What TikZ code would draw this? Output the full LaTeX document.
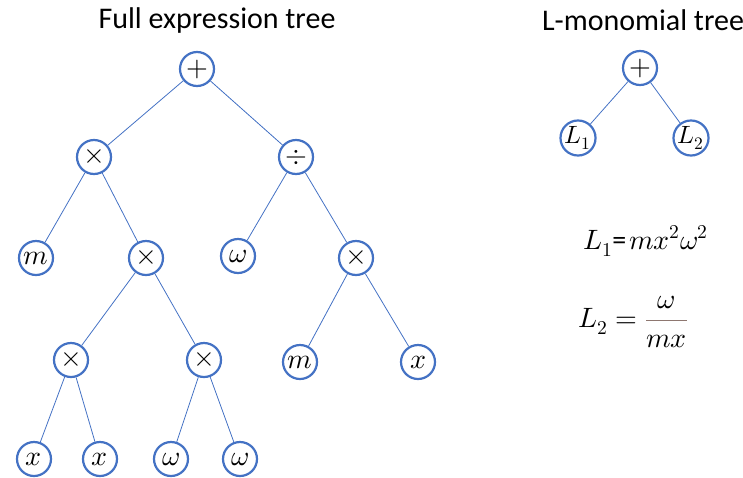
\documentclass[tikz,border=0pt]{standalone}
\usepackage{fontspec}
\setmainfont{Carlito}
\usepackage{amsmath}
\usepackage{unicode-math}
\setmathfont{Latin Modern Math}
\definecolor{nodeblue}{HTML}{4472C4}
\definecolor{fracbar}{HTML}{8E7770}
\begin{document}
\begin{tikzpicture}[x=1pt,y=-1pt,
  tn/.style={circle,draw=nodeblue,line width=2.2pt,fill=white,minimum size=34pt,inner sep=0pt,font=\fontsize{28}{28}\selectfont},
  edge/.style={draw=nodeblue,line width=0.8pt},
  title/.style={font=\fontsize{30}{30}\selectfont}]
\useasboundingbox (0,0) rectangle (743,477);
\node[title] (t1) at (217,20) {Full expression tree};
\node[title] (t2) at (643,20) {L-monomial tree};
% full tree
\node[tn] (r) at (197,69) {$+$};
\node[tn] (a) at (94,157) {$\times$};
\node[tn] (b) at (296,157) {$\div$};
\node[tn] (a1) at (36,258) {$m$};
\node[tn] (a2) at (146,258) {$\times$};
\node[tn] (b1) at (238,256) {$\omega$};
\node[tn] (b2) at (356,258) {$\times$};
\node[tn] (c1) at (71,360) {$\times$};
\node[tn] (c2) at (204,360) {$\times$};
\node[tn] (d1) at (300,362) {$m$};
\node[tn] (d2) at (418,362) {$x$};
\node[tn] (e1) at (34,459) {$x$};
\node[tn] (e2) at (100,459) {$x$};
\node[tn] (e3) at (171,459) {$\omega$};
\node[tn] (e4) at (240,459) {$\omega$};
\draw[edge] (r) -- (a);
\draw[edge] (r) -- (b);
\draw[edge] (a) -- (a1);
\draw[edge] (a) -- (a2);
\draw[edge] (b) -- (b1);
\draw[edge] (b) -- (b2);
\draw[edge] (a2) -- (c1);
\draw[edge] (a2) -- (c2);
\draw[edge] (b2) -- (d1);
\draw[edge] (b2) -- (d2);
\draw[edge] (c1) -- (e1);
\draw[edge] (c1) -- (e2);
\draw[edge] (c2) -- (e3);
\draw[edge] (c2) -- (e4);
% L-monomial tree
\node[tn] (lr) at (640,68) {$+$};
\node[tn,font=\fontsize{25}{25}\selectfont] (l1) at (578,138) {$L_1$};
\node[tn,font=\fontsize{25}{25}\selectfont] (l2) at (691,138) {$L_2$};
\draw[edge] (lr) -- (l1);
\draw[edge] (lr) -- (l2);
% formulas
\node[font=\fontsize{28}{28}\selectfont] (f1) at (646,241) {$L_1$\kern-1pt=\kern3pt$mx^2\omega^2$};
\node[font=\fontsize{28}{28}\selectfont] (f2) at (633,322) {$L_2={\color{fracbar}\dfrac{\color{black}\omega}{\color{black}mx}}$};
\end{tikzpicture}
\end{document}
